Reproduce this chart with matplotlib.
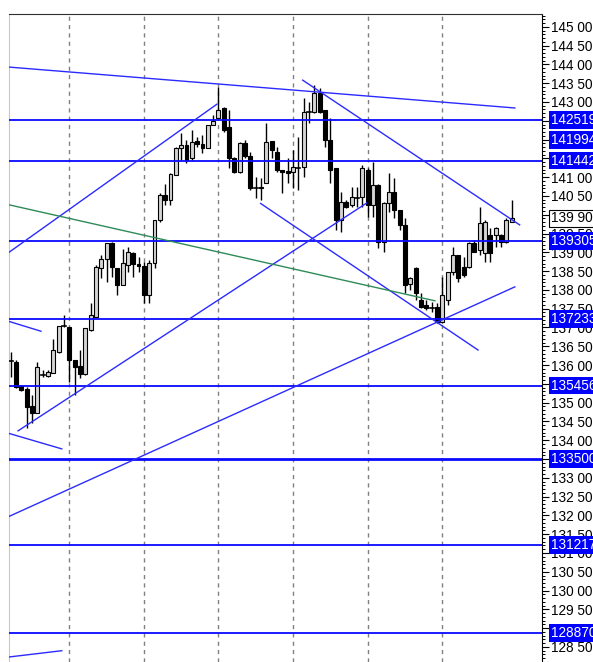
import numpy as np
import matplotlib
matplotlib.use("Agg")
import matplotlib.pyplot as plt
from matplotlib.patches import Rectangle
from matplotlib.ticker import MultipleLocator, FuncFormatter
from matplotlib.transforms import blended_transform_factory

plt.rcParams['font.family'] = ['Liberation Sans', 'DejaVu Sans']

# ---------------- data ----------------
opens = [
    136.10, 136.09, 135.44, 135.35, 134.91, 134.72, 135.74, 135.71, 135.80, 136.35,
    137.05, 137.00, 136.13, 135.97, 135.76, 136.93, 137.29, 138.58, 138.82, 139.24,
    138.57, 138.13, 138.66, 138.99, 138.68, 138.64, 137.86, 138.71, 139.86, 140.52,
    140.39, 141.06, 141.77, 141.85, 141.50, 141.96, 141.87, 141.78, 142.40, 142.56,
    142.83, 142.34, 141.50, 141.14, 141.90, 141.56, 140.71, 140.70, 140.84, 141.96,
    141.68, 141.19, 141.17, 141.14, 141.25, 141.28, 142.73, 142.74, 143.23, 142.79,
    141.99, 141.23, 139.86, 140.35, 140.26, 140.45, 140.48, 141.19, 140.26, 140.79,
    139.28, 140.30, 140.61, 140.13, 139.73, 138.16, 138.57, 137.73, 137.60, 137.52,
    137.55, 137.15, 137.73, 138.48, 138.93, 138.62, 138.62, 139.24, 139.06, 138.97,
    139.46, 139.46, 139.46, 139.28, 139.81]
highs = [
    136.35, 136.13, 135.47, 135.42, 135.20, 136.09, 135.87, 135.87, 136.69, 137.04,
    137.33, 137.01, 136.13, 136.40, 136.99, 137.65, 138.66, 138.93, 139.25, 139.28,
    138.58, 139.10, 139.15, 139.01, 138.88, 138.75, 138.80, 139.86, 140.57, 140.83,
    141.11, 141.81, 142.17, 141.99, 142.25, 142.07, 142.12, 142.40, 142.65, 143.40,
    142.87, 142.79, 141.54, 141.94, 141.99, 141.68, 141.01, 140.97, 142.43, 141.96,
    141.81, 141.19, 141.50, 141.72, 142.07, 143.10, 143.00, 143.45, 143.36, 142.79,
    142.56, 141.23, 140.61, 140.39, 140.74, 140.74, 141.32, 141.23, 141.41, 140.83,
    140.35, 141.10, 140.97, 140.13, 139.90, 138.35, 138.62, 137.91, 137.73, 137.69,
    137.64, 138.35, 138.48, 139.15, 138.93, 138.88, 139.28, 139.33, 140.21, 139.86,
    139.64, 139.68, 139.50, 139.90, 140.39]
lows = [
    135.69, 135.40, 135.31, 134.33, 134.46, 134.72, 135.68, 135.68, 135.79, 136.32,
    137.01, 135.56, 135.20, 135.66, 135.74, 136.91, 137.28, 138.32, 138.22, 138.35,
    137.86, 138.13, 138.48, 138.35, 138.48, 137.64, 137.64, 138.57, 139.81, 140.26,
    140.26, 141.06, 141.46, 141.37, 141.46, 141.81, 141.63, 141.78, 142.39, 142.56,
    142.21, 141.23, 141.10, 141.10, 141.50, 140.66, 140.44, 140.39, 140.84, 141.50,
    141.14, 140.57, 140.84, 140.71, 140.66, 141.01, 142.43, 142.70, 142.70, 141.81,
    140.84, 139.59, 139.55, 140.17, 140.21, 140.21, 140.21, 139.95, 139.95, 139.11,
    139.01, 140.08, 139.90, 139.59, 137.91, 138.00, 137.73, 137.51, 137.46, 137.42,
    137.11, 137.11, 137.60, 138.40, 138.22, 138.35, 138.57, 139.01, 138.93, 138.75,
    138.75, 139.15, 139.15, 139.24, 139.81]
closes = [
    136.08, 135.42, 135.34, 134.89, 134.72, 135.96, 135.73, 135.82, 136.40, 137.04,
    137.04, 136.13, 135.96, 135.76, 136.99, 137.33, 138.62, 138.82, 139.24, 138.62,
    138.13, 138.71, 139.01, 138.69, 138.64, 137.86, 138.71, 139.86, 140.52, 140.39,
    141.08, 141.77, 141.85, 141.46, 141.94, 141.87, 141.77, 142.40, 142.49, 142.79,
    142.25, 141.50, 141.14, 141.90, 141.56, 140.70, 140.69, 140.73, 141.94, 141.72,
    141.19, 141.14, 141.10, 141.28, 141.27, 142.74, 142.75, 143.23, 142.74, 141.99,
    141.19, 139.86, 140.35, 140.21, 140.48, 140.47, 141.23, 140.26, 140.79, 139.28,
    140.30, 140.61, 140.13, 139.73, 138.13, 138.32, 137.91, 137.55, 137.51, 137.54,
    137.15, 137.86, 138.48, 138.93, 138.31, 138.40, 139.24, 139.01, 139.77, 139.81,
    138.97, 139.64, 139.28, 139.86, 139.90]

# horizontal support / resistance levels
level_prices = [142.519, 141.442, 139.305, 137.233, 135.456, 133.500, 131.217, 128.870]
level_widths = [1.3, 1.3, 1.3, 1.3, 1.3, 2.0, 1.3, 1.3]
# price tags on the axis
tag_prices = [142.519, 141.994, 141.442, 139.305, 137.233, 135.456, 133.500, 131.217, 128.870]
tag_labels = ["142519", "141994", "141442", "139305", "137233", "135456", "133500", "131217", "128870"]
last_price = 139.90

# trendlines: start bar, start price, end bar, end price
trend_x0 = [-0.5, -0.5, -0.5, 1.4, 54.8, 46.9, -0.5, -0.5, -0.5]
trend_p0 = [143.93, 138.98, 131.96, 134.25, 143.58, 140.30, 137.17, 134.19, 128.23]
trend_x1 = [94.6, 38.7, 94.6, 66.8, 95.5, 87.7, 5.7, 9.6, 9.6]
trend_p1 = [142.84, 142.94, 138.08, 140.31, 139.73, 136.40, 136.90, 133.77, 128.40]
green_x = [-0.5, 79.6]
green_p = [140.27, 137.71]

grid_bars = [11, 25, 39, 53, 67, 81]

# ---------------- figure ----------------
fig = plt.figure(figsize=(5.93, 6.62), dpi=100)
ax = fig.add_axes([9 / 593, 0, (542 - 9) / 593, (662 - 14) / 662])
ax.set_xlim(-0.3, 99.7)
ax.set_ylim(128.10, 145.34)

for gx in grid_bars:
    ax.axvline(gx, color='#808080', lw=1, ls=(0, (3, 3)), zorder=1)

# candles
w = 0.74
for i, (o, h, l, c) in enumerate(zip(opens, highs, lows, closes)):
    ax.plot([i, i], [l, h], color='black', lw=1.0, zorder=2, solid_capstyle='butt')
    lo, hi = min(o, c), max(o, c)
    if hi - lo < 0.03:
        ax.plot([i - w / 2, i + w / 2], [o, o], color='black', lw=1.2, zorder=3)
        continue
    fc = 'black' if c < o else '#d4d4d4'
    ax.add_patch(Rectangle((i - w / 2, lo), w, hi - lo, facecolor=fc,
                           edgecolor='black', lw=0.8, zorder=3))

# levels
for p, lw in zip(level_prices, level_widths):
    ax.axhline(p, color='#0a0aff', lw=lw, zorder=4)

# trendlines
for x0, p0, x1, p1 in zip(trend_x0, trend_p0, trend_x1, trend_p1):
    ax.plot([x0, x1], [p0, p1], color='#2b2bff', lw=1.0, zorder=4)
ax.plot(green_x, green_p, color='#2e8b57', lw=1.0, zorder=4)

# axis styling
ax.set_xticks([])
ax.yaxis.tick_right()
ax.yaxis.set_major_locator(MultipleLocator(0.5))
ax.yaxis.set_minor_locator(MultipleLocator(0.1))
ax.yaxis.set_major_formatter(FuncFormatter(lambda v, pos: f"{v:.2f}".replace('.', ' ')))
ax.tick_params(axis='y', which='major', direction='out', length=5, width=0.8,
               labelsize=9.8, pad=1.5, colors='black')
ax.tick_params(axis='y', which='minor', direction='out', length=2.5, width=0.7)
ax.spines['bottom'].set_visible(False)
ax.spines['left'].set_color('#c8c8c8')
ax.spines['top'].set_color('#303030')
ax.spines['right'].set_color('black')

# price tags
trans = blended_transform_factory(ax.transAxes, ax.transData)
for p, t in zip(tag_prices, tag_labels):
    ax.annotate(t, xy=(1, p), xycoords=trans, xytext=(6.5, 0), textcoords='offset points',
                ha='left', va='center', color='white', fontsize=9.8, annotation_clip=False,
                bbox=dict(boxstyle='square,pad=0.14', fc='#0000ff', ec='none'), zorder=6)
ax.annotate(f"{last_price:.2f}".replace('.', ' '), xy=(1, last_price), xycoords=trans,
            xytext=(6.5, 0), textcoords='offset points', ha='left', va='center',
            color='black', fontsize=9.8, annotation_clip=False,
            bbox=dict(boxstyle='square,pad=0.14', fc='white', ec='black', lw=0.8), zorder=6)

fig.savefig('out.png', dpi=100)
